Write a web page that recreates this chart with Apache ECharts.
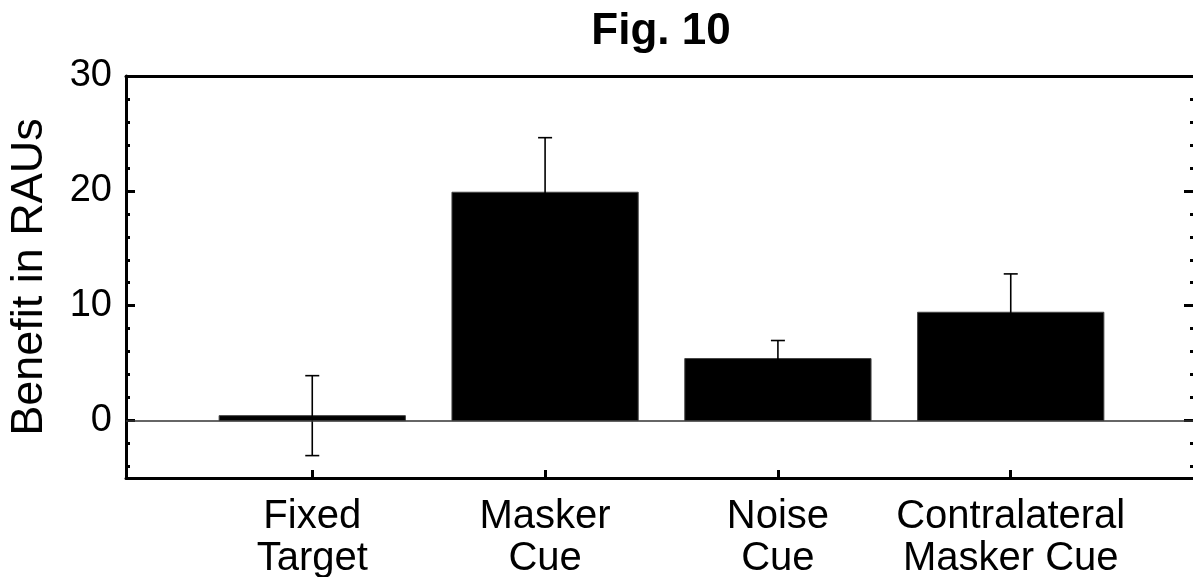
<!DOCTYPE html>
<html>
<head>
<meta charset="utf-8">
<style>
  html, body { margin: 0; padding: 0; background: #fff; }
  #chart { width: 1193px; height: 577px; }
</style>
<script src="https://cdn.jsdelivr.net/npm/echarts@6/dist/echarts.min.js"></script>
</head>
<body>
<div id="chart"></div>
<script>
// ---- data ----
var categories = ['Fixed\nTarget', 'Masker\nCue', 'Noise\nCue', 'Contralateral\nMasker Cue'];
var positions = [1, 2, 3, 4];
var means = [0.43, 19.88, 5.40, 9.43];
var errors = [3.48, 4.75, 1.57, 3.34];
var yMajorTicks = [0, 10, 20, 30];
var yMinorTicks = [-4, -2, 2, 4, 6, 8, 12, 14, 16, 18, 22, 24, 26, 28];

var FONT = '"Liberation Sans", Arial, Helvetica, sans-serif';

var barData = positions.map(function (p, i) { return [p, means[i]]; });
var errData = positions.map(function (p, i) { return [p, means[i], errors[i]]; });

var chart = echarts.init(document.getElementById('chart'), null, { renderer: 'canvas' });

function yAxisBase(pos) {
  return {
    type: 'value', position: pos, min: -5, max: 30,
    splitLine: { show: false },
    axisLabel: { show: false },
    axisLine: { show: false },
    axisTick: { show: false }
  };
}

var yAxes = [];
var y0 = yAxisBase('left');
y0.axisLine = { show: true, onZero: false, lineStyle: { color: '#000', width: 3 } };
y0.axisTick = { show: true, inside: true, length: 9, customValues: yMajorTicks, lineStyle: { color: '#000', width: 3 } };
y0.axisLabel = { show: true, customValues: yMajorTicks, margin: 14, color: '#000', fontSize: 38, fontFamily: FONT };
y0.name = 'Benefit in RAUs';
y0.nameLocation = 'middle';
y0.nameGap = 74;
y0.nameTextStyle = { color: '#000', fontSize: 45, fontFamily: FONT };
yAxes.push(y0);

var y1 = yAxisBase('left');
y1.axisTick = { show: true, inside: true, length: 4, customValues: yMinorTicks, lineStyle: { color: '#000', width: 3 } };
yAxes.push(y1);

var y2 = yAxisBase('right');
y2.axisTick = { show: true, inside: true, length: 13, customValues: yMajorTicks, lineStyle: { color: '#000', width: 3 } };
yAxes.push(y2);

var y3 = yAxisBase('right');
y3.axisTick = { show: true, inside: true, length: 7, customValues: yMinorTicks, lineStyle: { color: '#000', width: 3 } };
yAxes.push(y3);

var option = {
  backgroundColor: '#fff',
  animation: false,
  graphic: [{
    type: 'text', x: 661, y: 10,
    style: { text: 'Fig. 10', fill: '#000', font: 'bold 44px ' + FONT, align: 'center', verticalAlign: 'top' }
  }],
  grid: { left: 126, top: 76, width: 1071, bottom: 99, containLabel: false, outerBoundsMode: 'none' },
  xAxis: [{
    type: 'value', position: 'bottom', min: 0.2, max: 4.8,
    splitLine: { show: false },
    axisLine: { show: true, onZero: false, lineStyle: { color: '#000', width: 3 } },
    axisTick: { show: true, inside: true, length: 8, customValues: positions, lineStyle: { color: '#000', width: 3 } },
    axisLabel: {
      show: true, customValues: positions, margin: 18, color: '#000',
      fontSize: 40, lineHeight: 42, fontFamily: FONT,
      formatter: function (v) { return categories[Math.round(v) - 1] || ''; }
    }
  }, {
    type: 'value', position: 'top', min: 0.2, max: 4.8,
    splitLine: { show: false },
    axisLine: { show: true, onZero: false, lineStyle: { color: '#000', width: 3 } },
    axisTick: { show: false },
    axisLabel: { show: false }
  }],
  yAxis: yAxes,
  series: [{
    type: 'custom',
    name: 'bars',
    xAxisIndex: 0, yAxisIndex: 0,
    data: barData,
    renderItem: function (params, api) {
      var x = api.value(0), y = api.value(1);
      var p0 = api.coord([x - 0.4, 0]);
      var p1 = api.coord([x + 0.4, y]);
      return {
        type: 'rect',
        shape: { x: p0[0], y: Math.min(p0[1], p1[1]), width: p1[0] - p0[0], height: Math.abs(p1[1] - p0[1]) },
        style: { fill: '#000', stroke: '#444', lineWidth: 1 }
      };
    },
    markLine: {
      silent: true, symbol: ['none', 'none'], label: { show: false },
      lineStyle: { color: '#333', width: 1.5, type: 'solid' },
      data: [{ yAxis: 0 }],
      animation: false
    },
    z: 2
  }, {
    type: 'custom',
    name: 'errors',
    xAxisIndex: 0, yAxisIndex: 0,
    data: errData,
    renderItem: function (params, api) {
      var x = api.value(0), m = api.value(1), e = api.value(2);
      var top = api.coord([x, m + e]);
      var bot = api.coord([x, m - e]);
      var hw = 7;
      var st = { stroke: '#000', lineWidth: 1.6 };
      return {
        type: 'group',
        children: [
          { type: 'line', shape: { x1: top[0], y1: top[1], x2: bot[0], y2: bot[1] }, style: st },
          { type: 'line', shape: { x1: top[0] - hw, y1: top[1], x2: top[0] + hw, y2: top[1] }, style: st },
          { type: 'line', shape: { x1: bot[0] - hw, y1: bot[1], x2: bot[0] + hw, y2: bot[1] }, style: st }
        ]
      };
    },
    z: 3
  }]
};

chart.setOption(option);
</script>
</body>
</html>
